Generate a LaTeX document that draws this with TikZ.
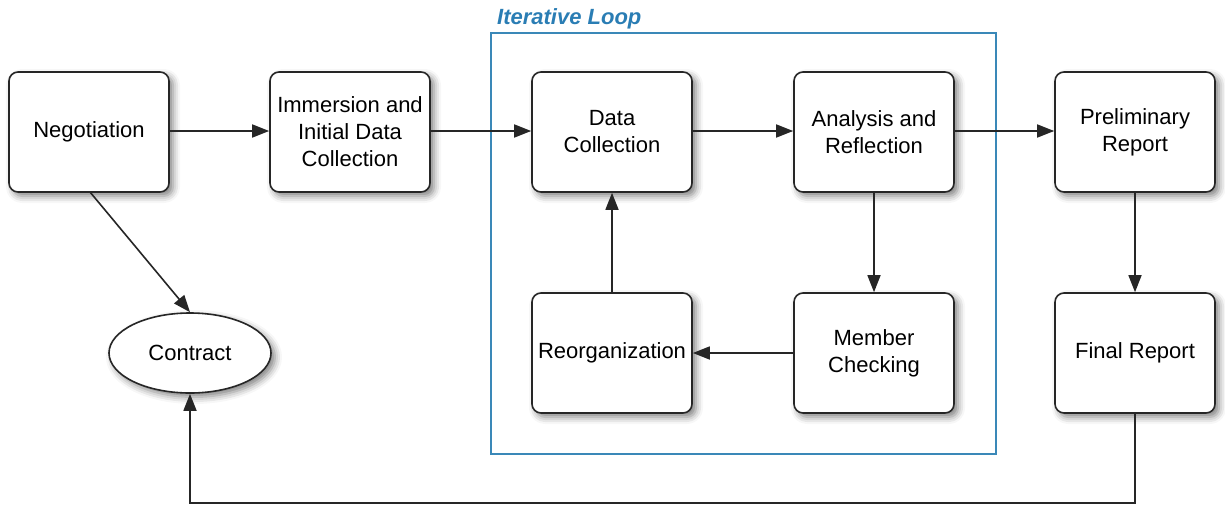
\documentclass[tikz,border=0pt]{standalone}
\usepackage{fontspec}
\setmainfont{Liberation Sans}
\usetikzlibrary{shapes.geometric,shadows.blur,arrows.meta}
\definecolor{loopblue}{HTML}{3A88B8}
\definecolor{labelblue}{HTML}{2A7DB4}
\begin{document}
\begin{tikzpicture}[x=1pt,y=-1pt,
  box/.style={draw=black!85,line width=1.6pt,rounded corners=9pt,fill=white,
    minimum width=160pt,minimum height=120pt,align=center,
    font=\fontsize{22}{27}\selectfont,
    blur shadow={shadow xshift=4pt,shadow yshift=-4pt,shadow blur radius=7pt,shadow opacity=50}},
  oval/.style={ellipse,draw=black!85,line width=1.6pt,fill=white,
    minimum width=162pt,minimum height=80pt,font=\fontsize{22}{27}\selectfont,
    blur shadow={shadow xshift=4pt,shadow yshift=-4pt,shadow blur radius=7pt,shadow opacity=50}},
  conn/.style={line width=1.6pt,draw=black!85,-{Triangle[length=17pt,width=13pt]}}]
\useasboundingbox (0,0) rectangle (1225,506);
\node[draw=loopblue,line width=1.5pt,minimum width=505pt,minimum height=421pt,anchor=north west] (loop) at (490,32) {};
\node[anchor=south west,inner sep=0pt,text=labelblue,font=\fontsize{22}{26}\selectfont\bfseries\itshape] (looplabel) at (497,29) {Iterative Loop};
\node[box] (neg) at (89,132) {Negotiation};
\node[box] (imm) at (350,132) {Immersion and\\Initial Data\\Collection};
\node[box] (dc) at (612,132) {Data\\Collection};
\node[box] (ana) at (874,132) {Analysis and\\Reflection};
\node[box] (pre) at (1135,132) {Preliminary\\Report};
\node[box] (reo) at (612,353) {Reorganization};
\node[box] (mem) at (874,353) {Member\\Checking};
\node[box] (fin) at (1135,353) {Final Report};
\node[oval] (con) at (190,353) {Contract};
\coordinate (c1) at (1135,503);
\coordinate (c2) at (190,503);
\draw[conn] (neg.east |- 0,131) -- (imm.west |- 0,131);
\draw[conn] (imm.east |- 0,131) -- (dc.west |- 0,131);
\draw[conn] (dc.east |- 0,131) -- (ana.west |- 0,131);
\draw[conn] (ana.east |- 0,131) -- (pre.west |- 0,131);
\draw[conn] (pre) -- (fin);
\draw[conn] (ana) -- (mem);
\draw[conn] (mem) -- (reo);
\draw[conn] (reo) -- (dc);
\draw[conn] (90,192) -- (con.north);
\draw[conn] (fin.south) -- (c1) -- (c2) -- (con.south);
\end{tikzpicture}
\end{document}
